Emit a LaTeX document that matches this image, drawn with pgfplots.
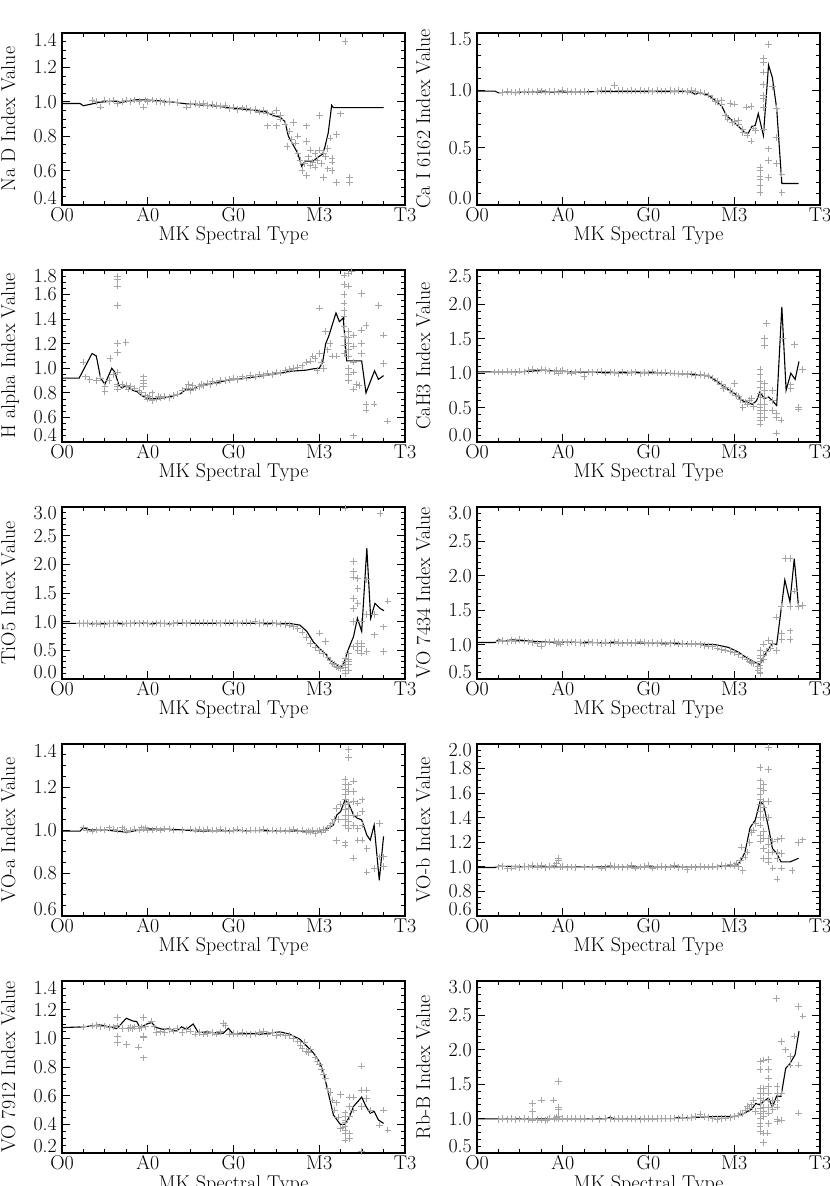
\documentclass[border=0pt]{standalone}
\usepackage{pgfplots}
\pgfplotsset{compat=1.18}
\definecolor{ptgray}{RGB}{165,165,165}
\newcommand\lo[1]{\raisebox{6.5bp}[\height][\depth]{#1}}
\newcommand\hi[1]{\raisebox{-6.5bp}[\height][\depth]{#1}}
\pgfplotsset{
 panel/.style={
  scale only axis, width=343bp, height=172bp, anchor=south west,
  xmin=0, xmax=80, xtick={0,20,40,60,80}, xticklabels={O0,A0,G0,M3,T3},
  minor x tick num=3,
  tick align=inside, xtick pos=both, ytick pos=both,
  major tick length=8bp, minor tick length=4bp,
  every tick/.style={black, line width=0.9bp},
  axis line style={line width=1.5bp},
  font=\fontsize{20}{24}\selectfont,
  xticklabel style={inner sep=0pt, yshift=-2.5bp},
  yticklabel style={inner sep=0pt, xshift=-5bp},
  xlabel={MK Spectral Type},
  every axis x label/.style={at={(axis description cs:0.5,-0.2093)}, anchor=base},
  every axis y label/.style={at={(axis description cs:-0.137,0.5)}, anchor=base, rotate=90},
 },
 pts/.style={only marks, mark=+, mark size=3.3bp, color=ptgray, mark options={line width=0.8bp}},
 ln/.style={black, line width=1.1bp, mark=none},
}
\begin{document}
\begin{tikzpicture}
% ---------------- Row 1 left: Na D
\begin{axis}[panel, at={(62bp,981bp)}, ymin=0.4, ymax=1.4,
  ytick={0.4,0.6,0.8,1.0,1.2,1.4}, yticklabels={\lo{0.4},0.6,0.8,1.0,1.2,\hi{1.4}},
  minor y tick num=3, ylabel={Na D Index Value}]
\addplot[pts] coordinates {(7,1.01)(8,1.0)(9,0.97)(10,1.01)(11,1.0)(12,1.01)(13,0.99)(14,1.0)(15,1.01)(16,1.0)(17,1.01)(18,1.0)(19,0.97)(19.5,1.01)(20,1.0)(21,1.01)(22,1.0)(23,1.0)(24,0.995)(25,1.0)(27,0.995)(29,0.97)(30,0.985)(31,0.99)(32,0.985)(33,0.99)(34,0.98)(35,0.985)(36,0.98)(37,0.975)(38,0.98)(39,0.96)(40,0.97)(41,0.955)(42,0.965)(43,0.96)(44,0.95)(45,0.955)(46,0.94)(47,0.95)(48,0.935)(48,0.86)(49,0.93)(50,0.95)(50,0.86)(51,0.92)(51,0.9)(52,0.87)(52.5,0.74)(53,0.83)(53.5,0.78)(54,0.88)(54.5,0.76)(55,0.80)(55,0.70)(55.5,0.66)(56,0.60)(56.5,0.64)(57,0.86)(57,0.77)(57,0.57)(57.5,0.68)(58,0.63)(58,0.72)(58.5,0.65)(59,0.70)(59,0.62)(59.5,0.66)(60,0.92)(60,0.72)(60.5,0.64)(61,0.56)(61,0.70)(61.5,0.68)(62,0.61)(62,0.73)(62.5,0.79)(63,0.60)(63,0.65)(63,0.67)(64,0.81)(64,0.53)(65,0.93)(66,1.35)(67,0.56)(67,0.53)};
\addplot[ln] coordinates {(0,0.99)(4.2,0.99)(5,0.977)(9,0.998)(12,1.004)(14,0.997)(15.5,1.005)(17.5,1.012)(20,1.01)(23,1.005)(26,0.998)(29,0.988)(32,0.982)(36,0.975)(40,0.962)(44,0.952)(47.5,0.942)(49.3,0.92)(50.9,0.91)(52,0.885)(52.8,0.80)(54,0.745)(55,0.70)(55.9,0.625)(56.7,0.655)(58.6,0.655)(59.8,0.68)(60.8,0.695)(61.4,0.745)(62.1,0.82)(62.9,0.98)(63.3,0.966)(75,0.966)};
\end{axis}
% ---------------- Row 1 right: Ca I 6162
\begin{axis}[panel, at={(477bp,981bp)}, ymin=0, ymax=1.5,
  ytick={0,0.5,1.0,1.5}, yticklabels={\lo{0.0},0.5,1.0,\hi{1.5}},
  minor y tick num=4, ylabel={Ca I 6162 Index Value}]
\addplot[pts] coordinates {(6,0.98)(7,0.99)(8,0.985)(9,0.98)(10,0.99)(11,0.985)(12,0.99)(13,0.985)(14,0.99)(15,0.995)(16,0.985)(17,0.99)(18,0.99)(19,0.985)(20,1.0)(21,0.99)(22,0.985)(23,0.99)(24,0.985)(25,0.99)(26,0.985)(28,0.99)(29,1.0)(30,1.0)(31,0.995)(32,1.04)(33,1.0)(34,1.0)(35,0.995)(36,1.0)(37,0.995)(38,1.0)(39,0.995)(40,1.0)(41,0.99)(42,1.0)(43,0.995)(44,0.995)(45,1.0)(46,0.99)(47,1.0)(48,0.995)(49,0.99)(50,1.0)(51,0.99)(52,0.985)(53,0.975)(54,0.96)(55,0.93)(55.5,0.9)(56,0.9)(57,0.88)(57,0.91)(58,0.78)(58.5,0.75)(59,0.885)(59.5,0.72)(60,0.88)(60,0.73)(61,0.74)(61,0.70)(62,0.66)(62,0.63)(62.9,0.855)(63,0.61)(63.9,0.86)(63.9,0.557)(64.5,0.67)(65,0.65)(66,0.33)(66,0.30)(66,0.25)(66,0.22)(66,0.17)(66,0.11)(66.8,1.28)(66.8,1.24)(66.8,1.16)(66.8,1.05)(66.8,0.96)(66.8,0.93)(66.8,0.85)(66.8,0.66)(68,1.40)(68,0.49)(68,0.39)(68,0.24)(68.9,1.03)(69.9,0.84)(69.9,0.59)(69.9,0.36)(71.1,0.27)(71.1,0.11)};
\addplot[ln] coordinates {(0,0.993)(4.2,0.993)(5,0.978)(7,0.985)(9,0.98)(12,0.985)(20,0.985)(30,0.99)(40,0.99)(48,0.99)(50,0.985)(50.9,0.964)(51.7,0.98)(54,0.958)(55.5,0.914)(57.1,0.86)(58.2,0.78)(59.4,0.74)(61,0.685)(62.5,0.63)(63.3,0.627)(64.1,0.685)(64.9,0.694)(65.6,0.797)(66.8,0.606)(68,1.22)(68.9,1.11)(69.9,0.84)(71.1,0.187)(75,0.187)};
\end{axis}
% ---------------- Row 2 left: H alpha
\begin{axis}[panel, at={(62bp,744bp)}, ymin=0.4, ymax=1.8,
  ytick={0.4,0.6,0.8,1.0,1.2,1.4,1.6,1.8}, yticklabels={\lo{0.4},0.6,0.8,1.0,1.2,1.4,1.6,\hi{1.8}},
  minor y tick num=3, ylabel={H alpha Index Value}]
\addplot[pts] coordinates {(5,1.05)(5.5,0.93)(6.5,0.91)(8,0.9)(9,0.92)(10,0.81)(10,0.85)(11,0.9)(11.2,1.08)(12,0.95)(13,0.87)(13,0.85)(13,0.83)(14,0.87)(15,0.86)(15.5,0.83)(16,0.85)(17,0.84)(18,0.82)(18.5,0.8)(19,0.93)(19,0.9)(19,0.88)(19,0.85)(19.5,0.78)(20,0.76)(20,0.75)(20.5,0.77)(21,0.74)(21,0.8)(22,0.75)(22.5,0.77)(23,0.76)(24,0.77)(25,0.76)(26,0.78)(27,0.79)(28,0.82)(29,0.84)(29.5,0.87)(30,0.82)(30.5,0.86)(31,0.84)(32,0.85)(32.5,0.87)(33,0.86)(34,0.88)(34.5,0.87)(35,0.89)(36,0.88)(37,0.9)(38,0.9)(39,0.91)(40,0.92)(41,0.91)(42,0.93)(43,0.92)(44,0.94)(45,0.93)(46,0.95)(47,0.94)(48,0.96)(49,0.95)(50,0.97)(51,0.96)(52,0.98)(53,0.99)(54,1.0)(55,1.01)(56,1.02)(57,1.05)(58,1.06)(58.5,1.1)(59,1.08)(59.5,0.98)(60,1.49)(60,1.12)(60.5,1.05)(61,1.0)(61.5,1.3)(62,1.15)(62.5,1.2)(63,1.1)(64,1.1)(13,1.75)(13,1.72)(13,1.67)(13,1.51)(13,1.20)(13,1.13)(13,0.97)(14.9,1.21)(65.8,1.76)(66.8,1.77)(67.6,1.79)(65.8,1.68)(66.8,1.67)(65.8,1.6)(65.8,1.53)(65.8,1.47)(65.8,1.42)(65.8,1.34)(65.8,1.26)(65.8,1.19)(65.8,1.12)(66.8,1.3)(66.8,1.25)(66.8,1.2)(66.8,1.15)(66.8,1.1)(66.8,1.0)(66.8,0.95)(66.8,0.9)(68,1.27)(68,1.18)(68,1.05)(68,0.97)(68,0.83)(69.9,1.61)(69.9,1.31)(69.9,1.2)(69.9,1.12)(68.7,0.87)(69.3,0.86)(68,0.45)(66.8,0.38)(70.9,1.35)(70.9,0.71)(70.9,0.66)(72.8,0.71)(73.8,1.51)(75,1.04)(75,1.27)(75.9,0.57)};
\addplot[ln] coordinates {(0,0.92)(4,0.92)(7,1.12)(8,1.10)(9,0.92)(10,0.87)(11.6,1.0)(12.3,0.97)(13.3,0.86)(14,0.84)(15,0.86)(15.7,0.84)(16.5,0.82)(17.5,0.81)(18.5,0.78)(19.5,0.76)(20.5,0.75)(22,0.755)(24,0.76)(26,0.775)(27.5,0.79)(29,0.83)(30.5,0.83)(31.5,0.85)(33,0.86)(35,0.875)(37,0.89)(39,0.905)(41,0.91)(43,0.92)(45,0.93)(47,0.94)(49,0.95)(51,0.96)(53,0.975)(55,0.98)(57,0.985)(58.5,0.995)(60,1.0)(60.8,1.05)(61.5,1.2)(62.2,1.26)(63.9,1.45)(64.7,1.38)(65.6,1.41)(66.4,1.06)(69.9,1.06)(70.9,0.80)(72.9,0.98)(73.8,0.91)(75,0.94)};
\end{axis}
% ---------------- Row 2 right: CaH3
\begin{axis}[panel, at={(477bp,744bp)}, ymin=0, ymax=2.5,
  ytick={0,0.5,1.0,1.5,2.0,2.5}, yticklabels={\lo{0.0},0.5,1.0,1.5,2.0,\hi{2.5}},
  minor y tick num=4, ylabel={CaH3 Index Value}]
\addplot[pts] coordinates {(4,1.02)(5,1.02)(6,1.02)(7,1.03)(8,1.02)(9,1.01)(10,1.03)(11,1.02)(12,1.04)(13,1.05)(14,1.03)(15,1.06)(16,1.04)(17,1.03)(18,1.02)(18.5,1.04)(19,1.0)(19.5,1.03)(20,1.04)(21,1.02)(22,1.0)(23,1.02)(24,1.03)(25,0.95)(26,1.02)(27,1.01)(28,1.02)(29,1.03)(30,1.0)(31,1.02)(32,1.01)(33,0.99)(34,1.02)(35,1.0)(36,1.01)(37,1.02)(38,0.99)(39,1.01)(40,1.0)(41,1.02)(42,1.01)(43,1.0)(44,1.01)(45,1.0)(46,1.0)(47,0.99)(48,1.0)(49,0.98)(50,0.99)(51,0.97)(52,0.98)(53,0.97)(54,0.96)(55,0.93)(56,0.88)(57,0.84)(57.5,0.78)(58,0.8)(59,0.75)(59.5,0.72)(60,0.85)(60.5,0.68)(61,0.66)(61.5,0.62)(62,0.5)(62.5,0.58)(63,0.55)(63.5,0.6)(64,0.63)(64.5,0.52)(66,1.05)(66,0.98)(66,0.88)(66,0.80)(66,0.70)(66,0.65)(66,0.55)(66,0.50)(66,0.46)(66,0.41)(66,0.36)(66,0.31)(66,0.26)(67,1.5)(67,1.4)(67,0.85)(67,0.75)(67,0.65)(67,0.55)(67,0.46)(67,0.36)(67.5,1.72)(68.9,0.75)(68.9,0.6)(68.9,0.46)(69.9,0.41)(69.9,0.36)(69.9,0.13)(70.9,0.32)(71.3,1.5)(73.2,0.83)(73.2,0.78)(74,1.42)(75,0.5)(75,0.48)(75.9,1.05)};
\addplot[ln] coordinates {(0,1.02)(10,1.02)(13,1.03)(15,1.05)(18,1.03)(22,1.02)(30,1.01)(40,1.01)(48,0.99)(54,0.965)(55.5,0.90)(57.9,0.79)(60.2,0.70)(62.1,0.594)(63.3,0.574)(64.2,0.545)(65.2,0.60)(66,0.728)(67,0.63)(68,0.653)(68.9,0.60)(69.9,0.53)(71.1,1.965)(72.1,0.753)(73.2,1.0)(74.2,0.91)(75.1,1.17)};
\end{axis}
% ---------------- Row 3 left: TiO5
\begin{axis}[panel, at={(62bp,507bp)}, ymin=0, ymax=3.0,
  ytick={0,0.5,1.0,1.5,2.0,2.5,3.0}, yticklabels={\lo{0.0},0.5,1.0,1.5,2.0,2.5,\hi{3.0}},
  minor y tick num=4, ylabel={TiO5 Index Value}]
\addplot[pts] coordinates {(4,0.97)(5,0.97)(6,0.97)(7,0.96)(8,0.97)(9,0.96)(10,0.95)(11,0.97)(12,0.97)(13,0.98)(14,0.96)(15,0.97)(16,0.97)(17,0.98)(18,0.97)(19,0.98)(20,0.97)(21,0.96)(22,0.98)(23,0.97)(24,0.97)(25,0.96)(26,0.97)(27,0.98)(28,0.99)(29,0.97)(30,0.98)(31,0.99)(32,0.98)(33,0.99)(34,0.98)(35,0.99)(36,0.98)(37,0.97)(38,0.99)(39,0.98)(40,0.99)(41,0.97)(42,0.98)(43,0.99)(44,0.98)(45,1.0)(46,0.97)(47,0.99)(48,0.96)(49,0.98)(50,0.97)(51,0.96)(52,0.95)(53,0.94)(54,0.92)(55,0.88)(56,0.82)(57,0.72)(58,0.62)(59,0.55)(60,0.8)(60,0.5)(61,0.44)(61.5,0.65)(62,0.38)(62.5,0.33)(63,0.27)(63.5,0.25)(64,0.22)(64.5,0.2)(65,0.18)(65.5,0.23)(66,2.98)(66,0.36)(66,0.30)(66,0.25)(66,0.20)(66,0.15)(66,0.10)(66.8,0.45)(66.8,0.35)(66.8,0.30)(66.8,0.25)(66.8,0.15)(66.8,-0.03)(68,2.05)(68,1.87)(68,1.78)(68,1.4)(68,1.23)(68,1.0)(68,0.56)(69,1.75)(69,1.58)(69,1.32)(69,0.62)(69,0.5)(69.9,1.0)(69.9,0.62)(69.9,0.56)(69.9,0.45)(71.1,1.73)(71.1,1.12)(71.1,0.48)(72.9,1.12)(72.9,0.77)(74.2,2.89)(75,0.91)(75,0.48)(76,1.36)};
\addplot[ln] coordinates {(0,0.97)(53,0.97)(55.5,0.94)(57.1,0.83)(58.6,0.65)(60.2,0.52)(61.7,0.42)(62.1,0.36)(63.3,0.285)(64.9,0.20)(65.6,0.245)(66.8,0.52)(68,0.74)(68.9,1.06)(69.9,0.83)(71.1,2.28)(72,1.06)(73,1.32)(74.2,1.23)(75.1,1.19)};
\end{axis}
% ---------------- Row 3 right: VO 7434
\begin{axis}[panel, at={(477bp,507bp)}, ymin=0.5, ymax=3.0,
  ytick={0.5,1.0,1.5,2.0,2.5,3.0}, yticklabels={\lo{0.5},1.0,1.5,2.0,2.5,\hi{3.0}},
  minor y tick num=4, ylabel={VO 7434 Index Value}]
\addplot[pts] coordinates {(5,1.05)(6,1.06)(7,1.04)(8,1.06)(9,1.05)(10,1.07)(11,1.05)(12,1.04)(13,1.03)(14,1.02)(15,0.98)(16,1.03)(17,1.04)(18,1.05)(18.5,1.02)(19,1.03)(19.5,1.01)(20,1.04)(21,1.03)(22,1.04)(23,1.03)(24,1.03)(25,1.02)(26,1.04)(27,1.03)(28,1.03)(29,1.02)(30,1.03)(31,1.02)(32,1.04)(33,1.03)(34,1.02)(35,1.03)(36,1.02)(37,1.03)(38,1.04)(39,1.03)(40,1.02)(41,1.03)(42,1.02)(43,1.03)(44,1.01)(45,1.02)(46,1.03)(47,1.01)(48,1.02)(49,1.01)(50,1.02)(51,1.01)(52,1.0)(53,0.99)(54,0.98)(55,0.97)(56,0.95)(57,0.93)(58,0.92)(59,0.9)(60,0.88)(61,0.86)(62,0.82)(63,0.78)(63.5,0.76)(64,0.74)(64.5,0.72)(66,0.91)(66,0.85)(66,0.8)(66,0.75)(66,0.7)(66,0.65)(66,0.6)(66,0.58)(65.5,0.62)(65.5,0.68)(66.8,1.01)(66.8,0.85)(66.8,0.78)(67.5,0.9)(68,1.06)(68.5,0.95)(68.9,1.02)(69.9,1.4)(69.9,0.91)(70.9,1.55)(71.1,1.16)(71.1,1.07)(72,2.25)(73,2.25)(73,1.55)(73,1.2)(73,1.07)(74,1.78)(75,1.55)(75.9,1.57)};
\addplot[ln] coordinates {(0,1.03)(4.2,1.03)(5,1.07)(6.5,1.05)(8.1,1.07)(10.4,1.06)(15,1.04)(25,1.03)(35,1.025)(45,1.02)(50,1.01)(55.5,1.0)(58.6,0.96)(61,0.89)(63.3,0.79)(64.9,0.74)(66,0.71)(67.2,0.86)(68.9,1.02)(69.9,1.0)(71.8,1.94)(73,1.62)(74,2.25)(75,1.55)};
\end{axis}
% ---------------- Row 4 left: VO-a
\begin{axis}[panel, at={(62bp,270bp)}, ymin=0.6, ymax=1.4,
  ytick={0.6,0.8,1.0,1.2,1.4}, yticklabels={\lo{0.6},0.8,1.0,1.2,\hi{1.4}},
  minor y tick num=3, ylabel={VO-a Index Value}]
\addplot[pts] coordinates {(5,1.01)(6,1.0)(7,0.995)(8,1.0)(9,1.005)(10,1.0)(11,1.01)(12,1.005)(13,1.0)(14,1.01)(14.5,1.005)(15,0.995)(16,1.0)(17,1.005)(18,1.0)(18.5,1.01)(19,1.005)(19.5,1.01)(20,1.0)(21,1.0)(22,1.005)(23,1.0)(24,1.005)(25,1.005)(26,1.0)(28,1.0)(30,1.005)(31,1.0)(32,1.005)(33,1.0)(34,1.005)(35,1.0)(36,1.0)(37,1.005)(38,1.0)(39,0.995)(40,1.0)(41,1.005)(42,1.0)(43,0.995)(44,1.0)(45,1.0)(46,1.0)(47,1.005)(48,0.995)(49,1.0)(50,0.995)(51,1.0)(52,0.995)(53,1.0)(54,1.005)(55,0.995)(56,1.0)(57,0.99)(57.5,0.995)(58,0.99)(58.5,1.0)(59,0.985)(59.5,0.995)(60,1.0)(60.5,0.99)(61,1.005)(61.5,1.0)(62,1.01)(62.5,1.02)(63,1.03)(63.5,1.05)(64,1.1)(64,0.95)(64.5,1.05)(65,1.12)(66,1.234)(66,1.21)(66,1.19)(66,1.164)(66,1.14)(66,1.117)(66,1.094)(66,1.07)(66,1.047)(66,1.02)(66,0.94)(66,0.93)(66.8,1.375)(66.8,1.336)(66.8,1.21)(66.8,1.18)(66.8,1.13)(66.8,1.10)(66.8,1.07)(66.8,1.04)(66.8,1.008)(68,1.227)(68,1.18)(68,1.133)(68,1.07)(68,1.02)(68,0.87)(69,1.125)(69,1.07)(69,1.008)(69,0.953)(70,1.14)(70,1.086)(70,1.023)(70,0.953)(71.1,0.914)(71.1,0.805)(72.9,0.82)(74,1.03)(74,0.875)(75,0.875)(75,0.83)};
\addplot[ln] coordinates {(0,0.995)(4.2,0.995)(5,1.01)(6.5,1.0)(10,1.0)(15,0.99)(20,1.005)(26,1.003)(32,0.995)(40,0.997)(48,0.997)(55.5,0.995)(60.2,0.995)(62.1,1.008)(63.3,1.023)(64.1,1.07)(65,1.086)(66,1.14)(66.8,1.125)(68,1.07)(68.9,1.055)(69.9,1.047)(71.1,0.976)(71.9,0.953)(72.8,1.023)(74,0.766)(75,0.97)};
\end{axis}
% ---------------- Row 4 right: VO-b
\begin{axis}[panel, at={(477bp,270bp)}, ymin=0.6, ymax=2.0,
  ytick={0.6,0.8,1.0,1.2,1.4,1.6,1.8,2.0}, yticklabels={\lo{0.6},0.8,1.0,1.2,1.4,1.6,1.8,\hi{2.0}},
  minor y tick num=3, ylabel={VO-b Index Value}]
\addplot[pts] coordinates {(5,1.0)(6,1.005)(7,0.985)(8,0.99)(9,1.0)(10,0.995)(11,1.005)(12,1.0)(13,1.01)(14,1.005)(15,1.01)(16,0.995)(17,1.005)(18,1.01)(18.5,1.03)(19,1.055)(19,1.07)(19.5,1.0)(20,1.005)(21,0.995)(22,1.0)(23,0.995)(25,1.0)(27,1.0)(29,0.99)(30,0.995)(31,1.01)(32,1.005)(33,1.0)(34,0.995)(35,1.0)(36,1.01)(37,0.99)(38,1.0)(39,1.005)(40,1.015)(41,0.99)(42,1.0)(43,1.005)(44,0.995)(45,1.0)(46,1.01)(47,0.995)(48,1.0)(49,0.98)(50,1.0)(51,0.995)(52,1.005)(53,1.0)(54,1.0)(55,1.005)(56,1.0)(57,1.01)(58,1.005)(59,1.02)(60,1.01)(60.5,1.03)(61,1.0)(61.5,1.05)(61.7,1.16)(62,0.97)(62.5,1.08)(63,1.12)(63.5,1.2)(64,1.28)(64.5,1.3)(65,1.35)(66,1.81)(66,1.70)(66,1.64)(66,1.59)(66,1.55)(66,1.51)(66,1.45)(66,1.40)(66,1.34)(66,1.26)(66,1.21)(66.8,1.67)(66.8,1.62)(66.8,1.53)(66.8,1.48)(66.8,1.40)(66.8,1.29)(66.8,1.23)(66.8,1.15)(66.8,1.07)(68,1.97)(68,1.79)(68,1.53)(68,1.40)(68,1.23)(68,1.18)(68,1.12)(68,1.07)(68,1.04)(69,1.21)(69,1.12)(69,0.99)(70,1.22)(70,1.12)(70,1.07)(70,0.90)(71,1.23)(71,1.11)(71,0.99)(73.5,0.97)(75,1.2)(76,1.22)};
\addplot[ln] coordinates {(0,0.995)(4.2,0.995)(5,1.005)(15,1.0)(25,1.0)(35,1.0)(45,1.0)(55,1.0)(60.2,1.01)(61.4,1.04)(62.5,1.12)(63.7,1.32)(64.9,1.38)(66,1.53)(66.8,1.51)(68,1.32)(68.9,1.15)(69.9,1.11)(70.9,1.04)(73,1.04)(75,1.07)};
\end{axis}
% ---------------- Row 5 left: VO 7912
\begin{axis}[panel, at={(62bp,33bp)}, ymin=0.2, ymax=1.4,
  ytick={0.2,0.4,0.6,0.8,1.0,1.2,1.4}, yticklabels={\lo{0.2},0.4,0.6,0.8,1.0,1.2,\hi{1.4}},
  minor y tick num=3, ylabel={VO 7912 Index Value}]
\addplot[pts] coordinates {(5,1.08)(7,1.085)(8,1.09)(9,1.08)(10,1.085)(11,1.075)(12,1.08)(13,1.145)(13,1.087)(13,1.016)(13,0.97)(14,1.07)(15,0.958)(15.5,1.07)(16,1.075)(16.5,1.07)(17,1.08)(17.8,0.94)(18,1.07)(18.5,1.075)(19,1.145)(19,1.016)(19,1.005)(19,0.864)(19.5,1.08)(20.9,1.12)(21.5,1.08)(22,1.04)(23,1.045)(24,1.04)(25,1.06)(26,1.05)(27,1.07)(28,1.04)(29,1.06)(30,1.05)(31,1.03)(32,1.04)(33,1.03)(34,1.035)(35,1.04)(36,1.03)(37,1.045)(37.6,1.105)(38,1.09)(39,1.03)(40,1.035)(41,1.03)(42,1.04)(43,1.03)(44,1.025)(45,1.03)(46,1.04)(47,1.05)(48,1.03)(49,1.04)(50,1.02)(51,1.03)(52,1.02)(53,1.02)(54,1.0)(55,0.98)(55.5,0.95)(56,0.93)(56.5,0.97)(57,0.91)(57.5,0.9)(58,0.92)(59,0.87)(59.5,0.84)(60,0.82)(60.5,0.78)(61,0.75)(61.5,0.72)(62,0.65)(62.5,0.62)(63,0.57)(63.5,0.5)(64.9,0.61)(64,0.55)(64.5,0.45)(66,0.48)(66,0.455)(66,0.43)(66,0.41)(66,0.385)(66,0.36)(66,0.337)(66,0.29)(65.5,0.38)(65,0.37)(67,0.59)(67,0.525)(67,0.455)(67,0.337)(67,0.30)(68,0.59)(68,0.5)(69.9,0.806)(69.9,0.64)(69.9,0.525)(69.9,0.21)(71,0.64)(71,0.58)(72,0.5)(74,0.396)(75,0.5)(76,0.36)};
\addplot[ln] coordinates {(0,1.075)(5,1.08)(8.9,1.094)(12.8,1.068)(15,1.14)(16.6,1.12)(17.4,1.118)(18.2,1.075)(19.8,1.10)(20.9,1.11)(22,1.075)(23.6,1.063)(25,1.066)(26.7,1.05)(27.9,1.08)(29,1.063)(30.6,1.10)(31.8,1.04)(33.8,1.045)(35.3,1.04)(37.6,1.035)(38.8,1.07)(40,1.028)(43.9,1.035)(46.2,1.028)(47.7,1.035)(50.9,1.045)(53.2,1.028)(55.5,0.993)(57.1,0.946)(58.6,0.9)(60,0.84)(61,0.76)(62.1,0.62)(63.3,0.466)(64.9,0.4)(66,0.4)(67,0.45)(68,0.525)(69.9,0.59)(70.9,0.525)(71.9,0.478)(72.8,0.49)(73.8,0.43)(75,0.407)};
\end{axis}
% ---------------- Row 5 right: Rb-B
\begin{axis}[panel, at={(477bp,33bp)}, ymin=0.5, ymax=3.0,
  ytick={0.5,1.0,1.5,2.0,2.5,3.0}, yticklabels={\lo{0.5},1.0,1.5,2.0,2.5,\hi{3.0}},
  minor y tick num=4, ylabel={Rb-B Index Value}]
\addplot[pts] coordinates {(5,0.99)(6,1.0)(7,0.99)(8,1.0)(9,0.99)(10,0.995)(11,1.0)(12,0.99)(13,1.22)(13,1.10)(13,1.0)(13,0.98)(14,0.99)(15,1.27)(15,0.98)(16,0.97)(16.5,0.99)(17,1.01)(17.8,1.27)(18,1.0)(18.5,1.02)(19,1.54)(19,1.17)(19,1.13)(19,1.03)(19,1.0)(20,1.0)(21,1.0)(22,1.01)(23,1.0)(24,1.0)(25,1.0)(27,1.0)(28.5,0.99)(30,1.0)(31,1.0)(32,0.995)(33,1.0)(34,1.0)(35,0.995)(36,1.0)(37,1.0)(38,0.99)(39,1.0)(40,1.0)(41,1.005)(42,1.0)(43,1.0)(44,1.005)(45,1.0)(46,1.01)(47,1.0)(48,1.02)(49,1.01)(50,1.02)(51,1.03)(52,1.06)(53,1.03)(54,1.02)(55,1.0)(56,0.99)(57,1.0)(58,1.01)(59,1.02)(60,1.03)(61,1.05)(61.5,1.08)(62,1.07)(62.5,1.12)(63,1.18)(63.5,1.15)(64,1.2)(64.5,1.27)(65,1.1)(66,1.83)(66,1.71)(66,1.44)(66,1.37)(66,1.30)(66,1.22)(66,1.15)(66,1.08)(66,1.0)(66,0.93)(66,0.88)(66,0.81)(66.8,1.85)(66.8,1.44)(66.8,1.37)(66.8,1.27)(66.8,1.17)(66.8,1.1)(66.8,1.03)(66.8,0.79)(66.8,0.65)(68,1.86)(68,1.71)(68,1.59)(68,1.47)(68,1.37)(68,1.27)(68,1.17)(68,1.08)(68,0.93)(67.8,0.79)(69,1.27)(69,1.2)(69,1.13)(70,1.47)(70,1.37)(70,1.27)(70,1.17)(70,0.99)(70,0.96)(69.9,2.75)(71,2.12)(71,1.37)(71,0.98)(72,2.0)(73,1.9)(73,1.78)(74,2.2)(75,2.63)(75,1.78)(75,1.08)(76,2.49)};
\addplot[ln] coordinates {(0,0.995)(30,0.995)(31,1.02)(32,0.995)(46,1.0)(47,1.02)(48,1.01)(52,1.02)(55.5,1.03)(60.2,1.03)(62.1,1.07)(64.1,1.136)(65,1.22)(66,1.2)(66.8,1.25)(68,1.30)(68.9,1.17)(69.9,1.33)(70.9,1.32)(72,1.73)(73,1.8)(74.2,1.93)(75.1,2.27)};
\end{axis}
\pgfresetboundingbox
\path[use as bounding box] (0,0) rectangle (830bp,1186bp);
\end{tikzpicture}
\end{document}
